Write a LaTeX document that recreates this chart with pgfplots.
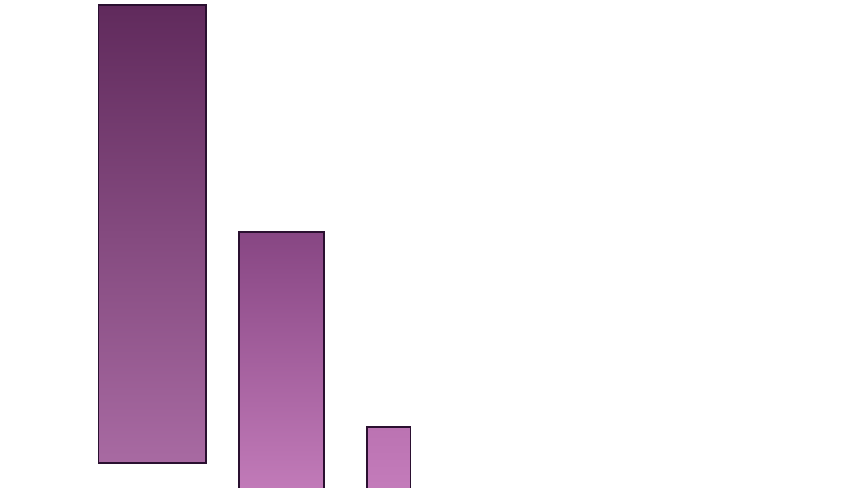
\documentclass[border=0pt]{standalone}
\usepackage{pgfplots}
\pgfplotsset{compat=1.18}
\begin{document}
\begin{tikzpicture}
\definecolor{edge}{RGB}{42,16,48}%
\definecolor{b1top}{RGB}{96,42,92}%
\definecolor{b1bot}{RGB}{168,106,162}%
\definecolor{b2top}{RGB}{135,70,131}%
\definecolor{b2bot}{RGB}{194,123,185}%
\definecolor{b3top}{RGB}{187,115,178}%
\definecolor{b3bot}{RGB}{196,124,187}%

\begin{axis}[%
width=12cm,
height=6.876cm,
scale only axis,
hide axis,
xmin=0,
xmax=850,
ymin=0,
ymax=487,
clip=true
]
% floating bars, coordinates in pixel units of the picture
\addplot [draw=edge,line width=0.6pt,top color=b1top,bottom color=b1bot]
  coordinates {(98.5,24.3) (206,24.3) (206,482) (98.5,482)} --cycle;
\addplot [draw=edge,line width=0.6pt,top color=b2top,bottom color=b2bot]
  coordinates {(239,-5) (324,-5) (324,255) (239,255)} --cycle;
\addplot [draw=edge,line width=0.6pt,top color=b3top,bottom color=b3bot]
  coordinates {(367,-5) (410.5,-5) (410.5,60) (367,60)} --cycle;
\path (rel axis cs:0,0) rectangle (rel axis cs:1,1);
\end{axis}
\end{tikzpicture}
\end{document}
